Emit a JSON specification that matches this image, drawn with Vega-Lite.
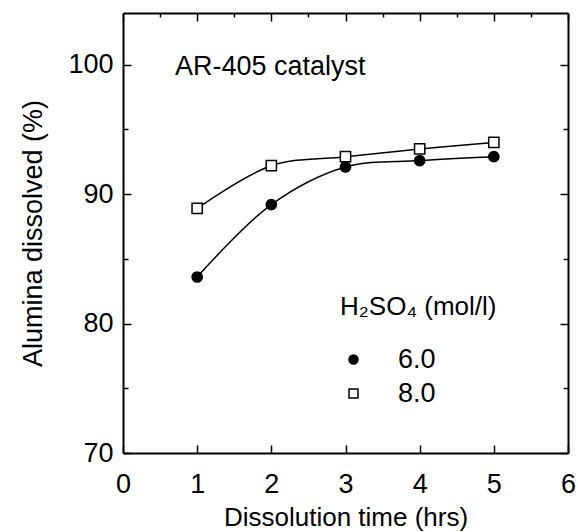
{
  "$schema": "https://vega.github.io/schema/vega-lite/v6.json",
  "autosize": {"type": "none"},
  "width": 445,
  "height": 440,
  "padding": {"left": 123, "top": 13, "right": 10, "bottom": 79},
  "background": "white",
  "config": {
    "font": "Liberation Sans",
    "view": {"stroke": null},
    "axis": {
      "domainColor": "black",
      "domainWidth": 2,
      "tickColor": "black",
      "tickWidth": 1.5,
      "labelColor": "black",
      "titleColor": "black",
      "labelFontSize": 27,
      "titleFontSize": 27,
      "titleFontWeight": "normal",
      "labelFont": "Liberation Sans",
      "titleFont": "Liberation Sans",
      "grid": false
    },
    "legend": {
      "titleFont": "Liberation Sans",
      "labelFont": "Liberation Sans",
      "titleFontSize": 26,
      "labelFontSize": 27,
      "titleFontWeight": "normal",
      "titleColor": "black",
      "labelColor": "black",
      "symbolStrokeColor": "black",
      "symbolStrokeWidth": 1.5,
      "symbolSize": 80
    }
  },
  "data": {
    "values": [
      {"time": 1, "alumina": 83.6, "conc": "6.0"},
      {"time": 2, "alumina": 89.2, "conc": "6.0"},
      {"time": 3, "alumina": 92.1, "conc": "6.0"},
      {"time": 4, "alumina": 92.6, "conc": "6.0"},
      {"time": 5, "alumina": 92.9, "conc": "6.0"},
      {"time": 1, "alumina": 88.9, "conc": "8.0"},
      {"time": 2, "alumina": 92.2, "conc": "8.0"},
      {"time": 3, "alumina": 92.9, "conc": "8.0"},
      {"time": 4, "alumina": 93.5, "conc": "8.0"},
      {"time": 5, "alumina": 94.0, "conc": "8.0"}
    ]
  },
  "layer": [
    {
      "mark": {"type": "line", "interpolate": "catmull-rom", "color": "black", "strokeWidth": 1.5},
      "encoding": {
        "detail": {"field": "conc"},
        "x": {
          "field": "time", "type": "quantitative",
          "scale": {"domain": [0, 6], "nice": false},
          "axis": {
            "orient": "bottom",
            "values": [0, 0.5, 1, 1.5, 2, 2.5, 3, 3.5, 4, 4.5, 5, 5.5, 6],
            "format": "d",
            "labelExpr": "datum.value % 1 === 0 ? datum.label : ''",
            "tickSize": {"condition": {"test": "datum.value % 1 === 0", "value": -8}, "value": -4},
            "labelPadding": 26,
            "labelFlush": false,
            "title": "Dissolution time (hrs)",
            "titleFontSize": 26,
            "titlePadding": 7
          }
        },
        "y": {
          "field": "alumina", "type": "quantitative",
          "scale": {"domain": [70, 104], "nice": false, "zero": false},
          "axis": {
            "orient": "left",
            "values": [70, 75, 80, 85, 90, 95, 100],
            "labelExpr": "datum.value % 10 === 0 ? datum.label : ''",
            "tickSize": {"condition": {"test": "datum.value % 10 === 0", "value": -8}, "value": -5},
            "labelPadding": 18,
            "labelFlush": false,
            "title": "Alumina dissolved (%)",
            "titlePadding": 20
          }
        }
      }
    },
    {
      "mark": {"type": "point", "filled": true, "strokeWidth": 1.5, "opacity": 1, "size": 105},
      "encoding": {
        "x": {"field": "time", "type": "quantitative", "axis": null},
        "y": {"field": "alumina", "type": "quantitative", "axis": null},
        "fill": {
          "field": "conc", "type": "nominal",
          "scale": {"domain": ["6.0", "8.0"], "range": ["black", "white"]},
          "legend": {
            "title": "H₂SO₄ (mol/l)", "orient": "none", "legendX": 217, "legendY": 281,
            "labelOffset": 31, "rowPadding": 6, "titlePadding": 26, "symbolOffset": 0
          }
        },
        "stroke": {
          "field": "conc", "type": "nominal",
          "scale": {"domain": ["6.0", "8.0"], "range": ["black", "black"]},
          "legend": {
            "title": "H₂SO₄ (mol/l)", "orient": "none", "legendX": 217, "legendY": 281,
            "labelOffset": 31, "rowPadding": 6, "titlePadding": 26, "symbolOffset": 0
          }
        },
        "shape": {
          "field": "conc", "type": "nominal",
          "scale": {"domain": ["6.0", "8.0"], "range": ["circle", "square"]},
          "legend": {
            "title": "H₂SO₄ (mol/l)", "orient": "none", "legendX": 217, "legendY": 281,
            "labelOffset": 31, "rowPadding": 6, "titlePadding": 26, "symbolOffset": 0
          }
        }
      }
    },
    {
      "data": {"values": [{"label": "AR-405 catalyst", "time": 0.7, "alumina": 99.8}]},
      "mark": {"type": "text", "align": "left", "baseline": "middle", "fontSize": 27, "font": "Liberation Sans", "color": "black"},
      "encoding": {
        "text": {"field": "label"},
        "x": {"field": "time", "type": "quantitative", "axis": null},
        "y": {"field": "alumina", "type": "quantitative", "axis": null}
      }
    },
    {
      "mark": {"type": "point", "opacity": 0},
      "encoding": {
        "x": {
          "field": "time", "type": "quantitative",
          "axis": {
            "orient": "top",
            "values": [0, 0.5, 1, 1.5, 2, 2.5, 3, 3.5, 4, 4.5, 5, 5.5, 6],
            "labels": false,
            "title": null,
            "tickSize": {"condition": {"test": "datum.value % 1 === 0", "value": -8}, "value": -4}
          }
        },
        "y": {
          "field": "alumina", "type": "quantitative",
          "axis": {
            "orient": "right",
            "values": [70, 75, 80, 85, 90, 95, 100],
            "labels": false,
            "title": null,
            "tickSize": {"condition": {"test": "datum.value % 10 === 0", "value": -8}, "value": -5}
          }
        }
      }
    }
  ],
  "resolve": {"axis": {"x": "independent", "y": "independent"}}
}
